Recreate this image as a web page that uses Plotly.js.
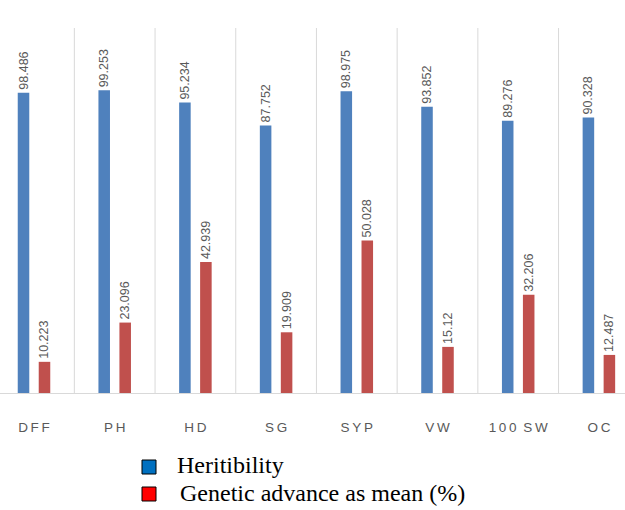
<!DOCTYPE html>
<html>
<head>
<meta charset="utf-8">
<script src="https://cdn.plot.ly/plotly-3.0.1.min.js"></script>
<style>html,body{margin:0;padding:0;background:#fff;}#chart{width:625px;height:510px;}</style>
</head>
<body>
<div id="chart"></div>
<script>
var categories = ["DFF", "PH", "HD", "SG", "SYP", "VW", "100 SW", "OC"];
var heritability = [98.486, 99.253, 95.234, 87.752, 98.975, 93.852, 89.276, 90.328];
var geneticAdvance = [10.223, 23.096, 42.939, 19.909, 50.028, 15.12, 32.206, 12.487];
var heritabilityLabels = ["98.486", "99.253", "95.234", "87.752", "98.975", "93.852", "89.276", "90.328"];
var geneticAdvanceLabels = ["10.223", "23.096", "42.939", "19.909", "50.028", "15.12", "32.206", "12.487"];
var legendNames = ["Heritibility", "Genetic advance as mean (%)"];

var xIdx = categories.map(function(_, i){ return i; });
var tickText = categories.map(function(c){
  return c.split(" ").map(function(w){ return w.split("").join("\u2009"); }).join("\u2002");
});

var labelFont = {family: "Liberation Sans, Arial, sans-serif", size: 12.5, color: "#595959"};

var traces = [
  {type: "bar", x: xIdx, y: heritability, name: legendNames[0],
   marker: {color: "#4F81BD"}, text: heritabilityLabels, textposition: "outside",
   textangle: -90, textfont: labelFont, constraintext: "none", cliponaxis: false, hoverinfo: "none"},
  {type: "bar", x: xIdx, y: geneticAdvance, name: legendNames[1],
   marker: {color: "#C0504D"}, text: geneticAdvanceLabels, textposition: "outside",
   textangle: -90, textfont: labelFont, constraintext: "none", cliponaxis: false, hoverinfo: "none"}
];

var T = 28, B = 393, W = 625;
function py(p){ return (B - p) / (B - T); }
function px(p){ return p / W; }

var shapes = [];
for (var i = 0; i < categories.length - 1; i++) {
  shapes.push({type: "line", xref: "x", yref: "paper", x0: i + 0.5, x1: i + 0.5, y0: 0, y1: 1,
               line: {color: "#D9D9D9", width: 1}});
}
shapes.push({type: "rect", xref: "paper", yref: "paper", x0: px(142), x1: px(156), y0: py(460), y1: py(474),
             fillcolor: "#0070C0", line: {color: "#000", width: 1}});
shapes.push({type: "rect", xref: "paper", yref: "paper", x0: px(142), x1: px(156), y0: py(487), y1: py(501),
             fillcolor: "#FF0000", line: {color: "#000", width: 1}});

var annotations = [
  {xref: "paper", yref: "paper", x: px(175), y: py(465), xanchor: "left", yanchor: "middle", showarrow: false,
   text: legendNames[0], font: {family: "Liberation Serif, Times New Roman, serif", size: 24, color: "#000"}},
  {xref: "paper", yref: "paper", x: px(178), y: py(493), xanchor: "left", yanchor: "middle", showarrow: false,
   text: legendNames[1], font: {family: "Liberation Serif, Times New Roman, serif", size: 24, color: "#000"}}
];

var layout = {
  width: 625, height: 510,
  margin: {l: 0, r: 0, t: T, b: 510 - B, pad: 0},
  paper_bgcolor: "#fff", plot_bgcolor: "#fff",
  barmode: "group", bargap: 0.48, bargroupgap: 0.45,
  showlegend: false,
  xaxis: {range: [-34/80.7, (625-34)/80.7], tickvals: xIdx, ticktext: tickText,
          showline: true, linecolor: "#D9D9D9", linewidth: 1, showgrid: false, zeroline: false,
          ticks: "", ticklabelstandoff: 22,
          tickfont: {family: "Liberation Sans, Arial, sans-serif", size: 13.5, color: "#595959"}, fixedrange: true},
  yaxis: {range: [0, 119.7], visible: false, showgrid: false, zeroline: false, fixedrange: true},
  shapes: shapes,
  annotations: annotations
};

Plotly.newPlot("chart", traces, layout, {displayModeBar: false, staticPlot: true});
</script>
</body>
</html>
